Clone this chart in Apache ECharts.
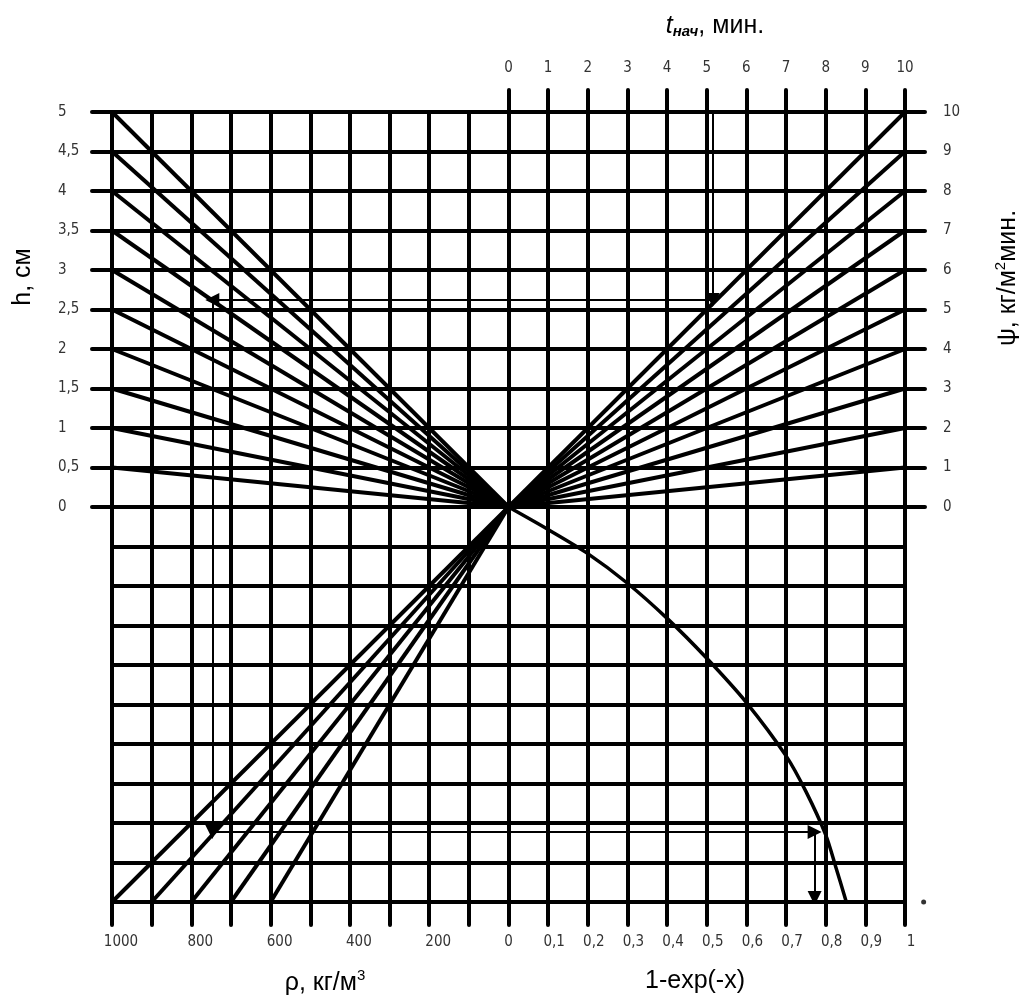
<!DOCTYPE html>
<html>
<head>
<meta charset="utf-8">
<script src="https://cdn.jsdelivr.net/npm/echarts@6/dist/echarts.min.js"></script>
<style>
html,body{margin:0;padding:0;background:#fff;}
#chart{width:1019px;height:999px;}
</style>
</head>
<body>
<div id="chart"></div>
<script>
// ---- tick labels ----
const hTicks = [0, 0.5, 1, 1.5, 2, 2.5, 3, 3.5, 4, 4.5, 5];
const psiTicks = [0, 1, 2, 3, 4, 5, 6, 7, 8, 9, 10];
const tTicks = [0, 1, 2, 3, 4, 5, 6, 7, 8, 9, 10];
const rhoTicks = [0, 200, 400, 600, 800, 1000];
const fracTicks = [0.1, 0.2, 0.3, 0.4, 0.5, 0.6, 0.7, 0.8, 0.9, 1];

// ---- top-left fan: lines from (ρ=0,h=0) to (ρ=1000, h) ----
const fanRhoEnd = 1000;
const fanHEnds = [5, 4.5, 4, 3.5, 3, 2.5, 2, 1.5, 1, 0.5];

// ---- top-right fan: lines from (t=0,Ψ=0) to (t=10, Ψ) ----
const fanTEnd = 10;
const fanPsiEnds = [10, 9, 8, 7, 6, 5, 4, 3, 2, 1];

// ---- bottom-left fan: lines from centre to bottom edge at ρ ----
const fanLowerEnd = -10;
const fanRhoBottom = [1000, 900, 800, 700, 600];

// ---- bottom-right curve 1-exp(-x) (x measured downward, grid units) ----
const curveFrac  = [0, 0.1, 0.2, 0.3, 0.4, 0.5, 0.6, 0.7, 0.75, 0.8, 0.825, 0.852];
const curveDepth = [0, -0.57, -1.18, -1.93, -2.82, -3.83, -4.95, -6.3, -7.2, -8.3, -9.1, -10.0];

// ---- example key path (arrows), in t / Ψ grid frame ----
const keyX = [5.15, 5.15, -7.47, -7.47, 7.72, 7.72];
const keyY = [10, 5.24, 5.24, -8.23, -8.23, -9.9];

// stray dot near bottom right corner (1-exp axis, lower axis)
const dotPoint = [[1.047, -10]];

const TICKFONT = "'Liberation Sans Narrow','DejaVu Sans Condensed','Liberation Sans',sans-serif";
const TITLEFONT = "'Liberation Sans',Arial,sans-serif";
const BLACK = '#000';
const comma = v => String(Math.round(v * 100) / 100).replace('.', ',');

const tickLabel = {
  fontFamily: TICKFONT, fontSize: 15, color: '#333'
};

const chart = echarts.init(document.getElementById('chart'), null, {renderer: 'canvas'});

const fanTL = fanHEnds.map(h => ({coords: [[fanRhoEnd, h], [0, 0]]}));
const fanTR = fanPsiEnds.map(p => ({coords: [[0, 0], [fanTEnd, p]]}));
const fanBL = fanRhoBottom.map(r => ({coords: [[0, 0], [r, fanLowerEnd]]}));
const keySegs = [];
for (let i = 0; i < keyX.length - 1; i++) {
  keySegs.push({coords: [[keyX[i], keyY[i]], [keyX[i + 1], keyY[i + 1]]]});
}
const curveData = curveFrac.map((f, i) => [f, curveDepth[i]]);

const option = {
  animation: false,
  backgroundColor: '#fff',
  grid: {left: 112, top: 112, width: 793, height: 790, containLabel: false},
  xAxis: [
    { // ρ axis (bottom, left half labelled); draws vertical grid lines
      type: 'value', position: 'bottom', inverse: true,
      min: -1000, max: 1000, interval: 100,
      axisLine: {show: false, onZero: false},
      axisTick: {show: true, length: 23, inside: false, lineStyle: {color: BLACK, width: 4, cap: 'round'}},
      axisLabel: {show: true, customValues: rhoTicks, margin: 33, ...tickLabel,
        formatter: v => v === 0 ? '0' : '{s|' + v + '}',
        rich: {s: {fontFamily: TICKFONT, fontSize: 15, color: '#333', padding: [0, 0, 0, 18]}}},
      splitLine: {show: true, lineStyle: {color: BLACK, width: 4}}
    },
    { // 1-exp(-x) axis (bottom, right half labelled)
      type: 'value', position: 'bottom',
      min: -1, max: 1, interval: 0.1,
      axisLine: {show: false, onZero: false},
      axisTick: {show: false},
      axisLabel: {show: true, customValues: fracTicks, margin: 33, ...tickLabel,
        formatter: v => '{s|' + comma(v) + '}',
        rich: {s: {fontFamily: TICKFONT, fontSize: 15, color: '#333', padding: [0, 0, 0, 12]}}},
      splitLine: {show: false}
    },
    { // t_нач axis (top, right half)
      type: 'value', position: 'top',
      min: -10, max: 10, interval: 1,
      axisLine: {show: false, onZero: false},
      axisTick: {show: true, customValues: tTicks, length: 22, lineStyle: {color: BLACK, width: 4, cap: 'round'}},
      axisLabel: {show: true, customValues: tTicks, margin: 36, ...tickLabel, formatter: v => String(v)},
      splitLine: {show: false}
    }
  ],
  yAxis: [
    { // h axis (left, top half)
      type: 'value', position: 'left',
      min: -5, max: 5, interval: 0.5,
      axisLine: {show: false, onZero: false},
      axisTick: {show: true, customValues: hTicks, length: 20, lineStyle: {color: BLACK, width: 4, cap: 'round'}},
      axisLabel: {show: true, customValues: hTicks, margin: 54, align: 'left', ...tickLabel, formatter: comma},
      splitLine: {show: false}
    },
    { // Ψ axis (right, top half)
      type: 'value', position: 'right',
      min: -10, max: 10, interval: 1,
      axisLine: {show: false, onZero: false},
      axisTick: {show: true, customValues: psiTicks, length: 20, lineStyle: {color: BLACK, width: 4, cap: 'round'}},
      axisLabel: {show: true, customValues: psiTicks, margin: 38, align: 'left', ...tickLabel, formatter: v => String(v)},
      splitLine: {show: false}
    },
    { // unlabelled lower axis; draws horizontal grid lines
      type: 'value', position: 'left',
      min: -10, max: 10, interval: 1,
      axisLine: {show: false, onZero: false},
      axisTick: {show: false},
      axisLabel: {show: false},
      splitLine: {show: true, lineStyle: {color: BLACK, width: 4}}
    }
  ],
  graphic: [
    {type: 'text', x: 715, y: 26, z: 10, style: {
      text: '{t|t}{s|нач}{n|, мин.}', align: 'center', verticalAlign: 'middle',
      rich: {
        t: {fontFamily: TITLEFONT, fontSize: 25, fontStyle: 'italic', fill: '#000'},
        s: {fontFamily: TITLEFONT, fontSize: 15, fontStyle: 'italic', fontWeight: 'bold', fill: '#000', padding: [12, 0, 0, 0]},
        n: {fontFamily: TITLEFONT, fontSize: 25, fill: '#000'}
      }}},
    {type: 'text', x: 23, y: 277, rotation: Math.PI / 2, z: 10, style: {
      text: 'h, см', align: 'center', verticalAlign: 'middle',
      fontFamily: TITLEFONT, fontSize: 25, fill: '#000'}},
    {type: 'text', x: 1008, y: 278, rotation: Math.PI / 2, z: 10, style: {
      text: '{a|ψ, кг/м}{s|2}{a|мин.}', align: 'center', verticalAlign: 'middle',
      rich: {
        a: {fontFamily: TITLEFONT, fontSize: 25, fill: '#000'},
        s: {fontFamily: TITLEFONT, fontSize: 15, fill: '#000', padding: [0, 0, 14, 0]}
      }}},
    {type: 'text', x: 325, y: 983, z: 10, style: {
      text: '{a|ρ, кг/м}{s|3}', align: 'center', verticalAlign: 'middle',
      rich: {
        a: {fontFamily: TITLEFONT, fontSize: 25, fill: '#000'},
        s: {fontFamily: TITLEFONT, fontSize: 15, fill: '#000', padding: [0, 0, 14, 0]}
      }}},
    {type: 'text', x: 695, y: 981, z: 10, style: {
      text: '1-exp(-x)', align: 'center', verticalAlign: 'middle',
      fontFamily: TITLEFONT, fontSize: 25, fill: '#000'}}
  ],
  series: [
    {type: 'lines', coordinateSystem: 'cartesian2d', xAxisIndex: 0, yAxisIndex: 0,
      data: fanTL, lineStyle: {color: BLACK, width: 4, opacity: 1}, symbol: ['none', 'none'], z: 3},
    {type: 'lines', coordinateSystem: 'cartesian2d', xAxisIndex: 2, yAxisIndex: 1,
      data: fanTR, lineStyle: {color: BLACK, width: 4, opacity: 1}, symbol: ['none', 'none'], z: 3},
    {type: 'lines', coordinateSystem: 'cartesian2d', xAxisIndex: 0, yAxisIndex: 2,
      data: fanBL, lineStyle: {color: BLACK, width: 4, opacity: 1}, symbol: ['none', 'none'], z: 3},
    {type: 'line', xAxisIndex: 1, yAxisIndex: 2, data: curveData, smooth: 0.3,
      showSymbol: false, symbol: 'none', lineStyle: {color: BLACK, width: 3.5}, z: 3},
    {type: 'lines', coordinateSystem: 'cartesian2d', xAxisIndex: 2, yAxisIndex: 1,
      data: keySegs, lineStyle: {color: BLACK, width: 2, opacity: 1},
      symbol: ['none', 'triangle'], symbolSize: 14, z: 4},
    {type: 'scatter', xAxisIndex: 1, yAxisIndex: 2, data: dotPoint, symbol: 'circle',
      symbolSize: 5, itemStyle: {color: BLACK}, clip: false, z: 4}
  ]
};
chart.setOption(option);
</script>
</body>
</html>
